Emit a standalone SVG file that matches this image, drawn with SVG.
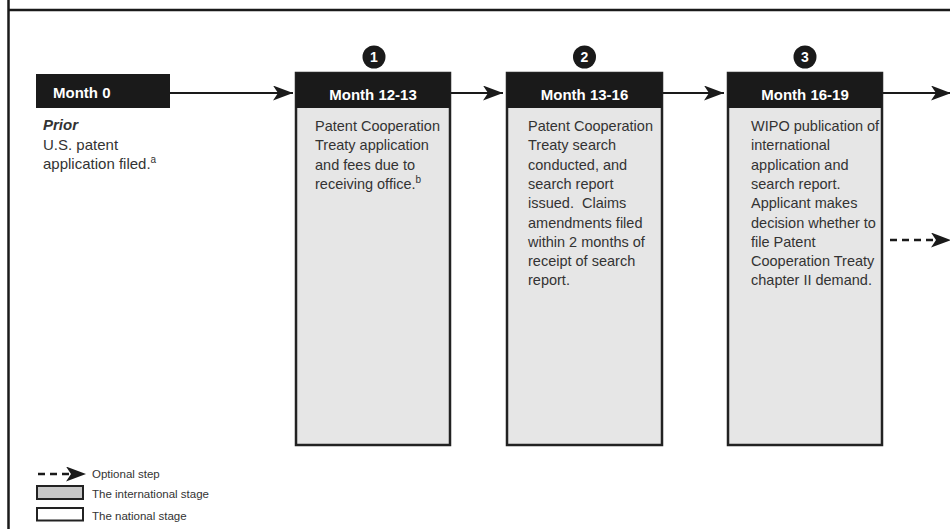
<svg xmlns="http://www.w3.org/2000/svg" width="950" height="529" viewBox="0 0 950 529">
<defs>
<style>
.frame{stroke:#1a1a1a;stroke-width:2.5;fill:none}
.hdr{fill:#1a1a1a}
.hdrt{font-family:"Liberation Sans",Arial,sans-serif;font-weight:bold;font-size:15px;fill:#fff}
.body{fill:#e6e6e6;stroke:#222;stroke-width:2.5}
.txt{font-family:"Liberation Sans",Arial,sans-serif;font-size:14.5px;fill:#333}
.txt0{font-family:"Liberation Sans",Arial,sans-serif;font-size:15px;fill:#333}
.sup{font-size:10px}
.num{fill:#1a1a1a}
.numt{font-family:"Liberation Sans",Arial,sans-serif;font-weight:bold;font-size:14px;fill:#fff}
.conn{stroke:#1a1a1a;stroke-width:2.2;fill:none}
.dash{stroke-dasharray:7,5;stroke-width:2.5}
.leg{font-family:"Liberation Sans",Arial,sans-serif;font-size:11.5px;fill:#333}
</style>
<marker id="ah" markerUnits="userSpaceOnUse" markerWidth="20" markerHeight="15" refX="20" refY="7.5" orient="auto" viewBox="0 0 20 15">
<path d="M0,0 L20,7.5 L0,15 L5,7.5 z" fill="#1a1a1a"/>
</marker>
</defs>
<rect width="950" height="529" fill="#fff"/>
<g id="frame">
<line class="frame" x1="8.5" y1="0" x2="8.5" y2="529"/>
<line class="frame" x1="8" y1="10" x2="950" y2="10"/>
</g>
<g id="connectors">
<line class="conn" x1="170" y1="93" x2="293" y2="93" marker-end="url(#ah)"/>
<line class="conn" x1="450" y1="93" x2="503" y2="93" marker-end="url(#ah)"/>
<line class="conn" x1="662" y1="93" x2="724" y2="93" marker-end="url(#ah)"/>
<line class="conn" x1="882" y1="93" x2="951" y2="93" marker-end="url(#ah)"/>
<line class="conn dash" x1="890" y1="240" x2="951" y2="240" marker-end="url(#ah)"/>
</g>
<g id="node-month0">
<rect class="hdr" x="36" y="74" width="134" height="34"/>
<text class="hdrt" x="53" y="98">Month 0</text>
<text class="txt0" x="43" y="130" font-weight="bold" font-style="italic" font-size="17px">Prior</text>
<text class="txt0" x="43" y="150">U.S. patent</text>
<text class="txt0" x="43" y="169">application filed.<tspan class="sup" dy="-6">a</tspan></text>
</g>
<g id="node-1">
<circle class="num" cx="374" cy="57" r="11.5"/>
<text class="numt" x="374" y="62" text-anchor="middle">1</text>
<rect class="body" x="296" y="73" width="154" height="372"/>
<rect class="hdr" x="296" y="73" width="154" height="35"/>
<text class="hdrt" x="373" y="100" text-anchor="middle">Month 12-13</text>
<text class="txt" x="315" y="131">Patent Cooperation</text>
<text class="txt" x="315" y="150.3">Treaty application</text>
<text class="txt" x="315" y="169.6">and fees due to</text>
<text class="txt" x="315" y="188.9">receiving office.<tspan class="sup" dy="-6">b</tspan></text>
</g>
<g id="node-2">
<circle class="num" cx="584.5" cy="57" r="11.5"/>
<text class="numt" x="584.5" y="62" text-anchor="middle">2</text>
<rect class="body" x="507" y="73" width="155" height="372"/>
<rect class="hdr" x="507" y="73" width="155" height="35"/>
<text class="hdrt" x="584.5" y="100" text-anchor="middle">Month 13-16</text>
<text class="txt" x="528" y="131">Patent Cooperation</text>
<text class="txt" x="528" y="150.3">Treaty search</text>
<text class="txt" x="528" y="169.6">conducted, and</text>
<text class="txt" x="528" y="188.9">search report</text>
<text class="txt" x="528" y="208.2" xml:space="preserve">issued.  Claims</text>
<text class="txt" x="528" y="227.5">amendments filed</text>
<text class="txt" x="528" y="246.8">within 2 months of</text>
<text class="txt" x="528" y="266.1">receipt of search</text>
<text class="txt" x="528" y="285.4">report.</text>
</g>
<g id="node-3">
<circle class="num" cx="805" cy="57" r="11.5"/>
<text class="numt" x="805" y="62" text-anchor="middle">3</text>
<rect class="body" x="728" y="73" width="154" height="372"/>
<rect class="hdr" x="728" y="73" width="154" height="35"/>
<text class="hdrt" x="805" y="100" text-anchor="middle">Month 16-19</text>
<text class="txt" x="751" y="131">WIPO publication of</text>
<text class="txt" x="751" y="150.3">international</text>
<text class="txt" x="751" y="169.6">application and</text>
<text class="txt" x="751" y="188.9">search report.</text>
<text class="txt" x="751" y="208.2">Applicant makes</text>
<text class="txt" x="751" y="227.5">decision whether to</text>
<text class="txt" x="751" y="246.8">file Patent</text>
<text class="txt" x="751" y="266.1">Cooperation Treaty</text>
<text class="txt" x="751" y="285.4">chapter II demand.</text>
</g>
<g id="legend">
<line class="conn dash" x1="38" y1="474" x2="86" y2="474" stroke-dasharray="9,5" stroke-width="3" marker-end="url(#ah)"/>
<text class="leg" x="92" y="478">Optional step</text>
<rect x="37" y="486" width="46" height="13" fill="#c8c8c8" stroke="#222" stroke-width="2"/>
<text class="leg" x="92" y="498">The international stage</text>
<rect x="37" y="508" width="46" height="12.5" fill="#fff" stroke="#222" stroke-width="2"/>
<text class="leg" x="92" y="520">The national stage</text>
</g>
</svg>
